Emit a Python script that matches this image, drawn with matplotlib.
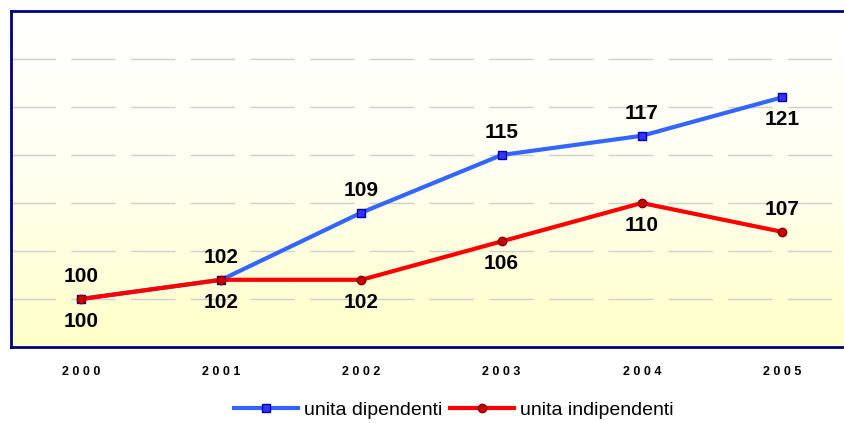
import numpy as np
import matplotlib.pyplot as plt
from matplotlib.colors import LinearSegmentedColormap

years = [2000, 2001, 2002, 2003, 2004, 2005]
dipendenti = [100, 102, 109, 115, 117, 121]
indipendenti = [100, 102, 102, 106, 110, 107]
# label above (+1) or below (-1) the point
dip_side = [1, 1, 1, 1, 1, -1]
indip_side = [-1, -1, -1, -1, -1, 1]

plt.rcParams['font.family'] = ['Liberation Sans', 'DejaVu Sans']

fig = plt.figure(figsize=(8.45, 4.23), dpi=100)
ax = fig.add_axes([11/845, 76/423, 834/845, 336/423])

x = np.arange(len(years))
ax.set_xlim(-0.5, 5.45)
ax.set_ylim(95, 130)

# background gradient white -> pale yellow
cmap = LinearSegmentedColormap.from_list("bg", ["#FFFFC8", "#FFFFF0", "#FFFFFF"])
grad = np.linspace(0, 1, 256).reshape(-1, 1)
ax.imshow(grad, cmap=cmap, origin="lower", aspect="auto",
          extent=(-0.5, 5.45, 95, 130), zorder=0)

for yv in range(100, 130, 5):
    ax.axhline(yv, color="#CFCFCF", lw=1, dashes=(32, 11), zorder=1)

ax.plot(x, dipendenti, color="#3366FF", lw=3, marker="s", ms=6,
        mfc="#3333FF", mec="#0000AA", mew=1, label="unita dipendenti", zorder=3)
ax.plot(x, indipendenti, color="#FF0000", lw=3, marker="o", ms=6,
        mfc="#CC0000", mec="#800000", mew=1, label="unita indipendenti", zorder=3)

for xi, v, s in zip(x, dipendenti, dip_side):
    ax.annotate(str(v), (xi, v), xytext=(0, 16*s), textcoords="offset points",
                ha="center", va="center", fontsize=15, fontweight="bold", zorder=4)
for xi, v, s in zip(x, indipendenti, indip_side):
    ax.annotate(str(v), (xi, v), xytext=(0, 16*s), textcoords="offset points",
                ha="center", va="center", fontsize=15, fontweight="bold", zorder=4)

ax.set_xticks(x)
ax.set_xticklabels([" ".join(str(y)) for y in years],
                   fontsize=9, fontweight="bold")
ax.set_yticks([])
ax.tick_params(axis="x", length=0, pad=14)

for side in ["left", "top", "bottom"]:
    ax.spines[side].set_color("#000080")
    ax.spines[side].set_linewidth(2)
ax.spines["right"].set_visible(False)

fig.legend(loc="center", bbox_to_anchor=(0.537, 0.03), ncol=2, frameon=False,
           fontsize=14, handlelength=3.3, handletextpad=0.3, columnspacing=0.4)

fig.savefig("out.png", dpi=100)
